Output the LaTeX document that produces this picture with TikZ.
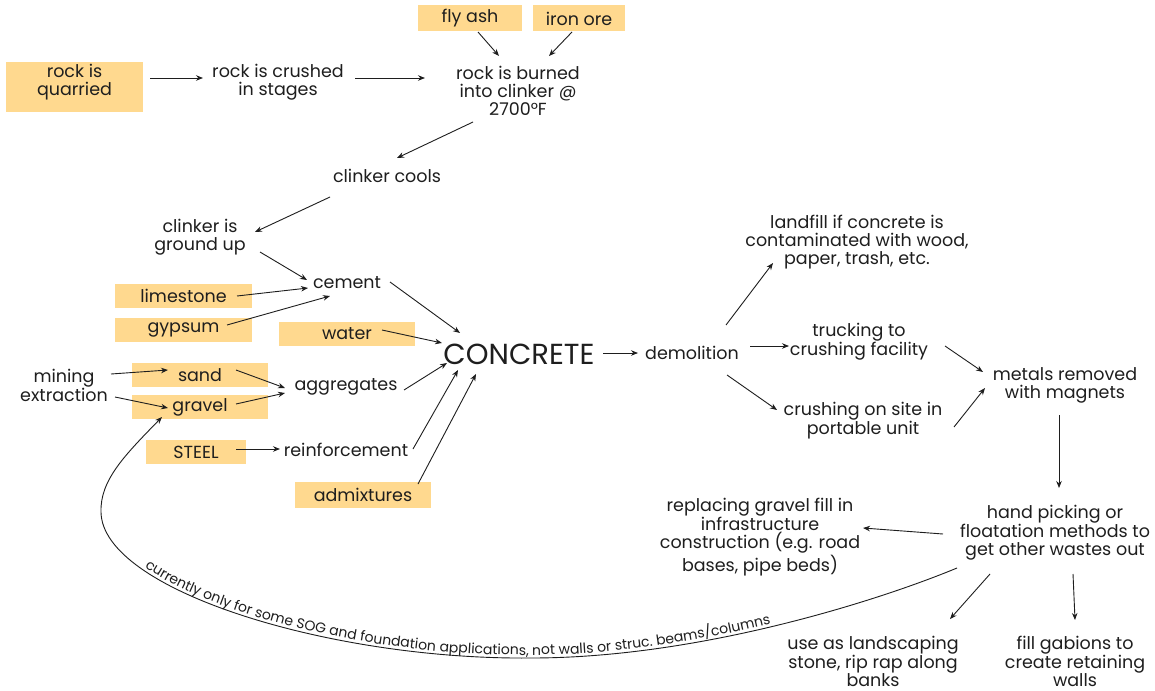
\documentclass[tikz,border=0pt]{standalone}
\usepackage{fontspec}
\setmainfont{Poppins}
\usetikzlibrary{arrows.meta,decorations.text}
\definecolor{boxfill}{HTML}{FFD98F}
\definecolor{ink}{HTML}{1E1E1E}
\tikzset{
  txt/.style={align=center, font=\fontsize{17.5}{18}\selectfont, text=ink, inner sep=1pt},
  hl/.style={txt, fill=boxfill, inner sep=0pt},
  arr/.style={draw=ink, line width=0.9pt, -{Stealth[length=7pt,width=5.5pt]}},
}
\begin{document}
\begin{tikzpicture}[x=1pt,y=-1pt]
\useasboundingbox[fill=white] (0,0) rectangle (1155,690);

% cement production
\node[hl, minimum width=137pt, minimum height=50pt, text depth=15pt] (quarried) at (74.5,87) {rock is\\quarried};
\node[txt] (crushed) at (278,82) {rock is crushed\\in stages};
\node[hl, minimum width=104pt, minimum height=26pt] (flyash) at (470,18.5) {fly ash};
\node[hl, minimum width=92pt, minimum height=26pt] (ironore) at (579,18.5) {iron ore};
\node[txt] (burned) at (518,91) {rock is burned\\into clinker @\\2700°F};
\node[txt] (cools) at (387,176) {clinker cools};
\node[txt] (ground) at (200,237) {clinker is\\ground up};
\node[txt] (cement) at (347,283) {cement};
\node[hl, minimum width=137pt, minimum height=24pt] (limestone) at (183.5,296) {limestone};
\node[hl, minimum width=137pt, minimum height=24pt] (gypsum) at (183.5,330) {gypsum};
\node[hl, minimum width=136pt, minimum height=24pt] (water) at (347,334) {water};

% concrete ingredients
\node[txt, font=\fontsize{29}{29}\selectfont] (concrete) at (519,354) {CONCRETE};
\node[txt] (mining) at (64,385) {mining\\extraction};
\node[hl, minimum width=136pt, minimum height=24pt] (sand) at (200,375) {sand};
\node[hl, minimum width=136pt, minimum height=24pt] (gravel) at (200,407) {gravel};
\node[txt] (aggregates) at (346,387) {aggregates};
\node[hl, minimum width=100pt, minimum height=24pt] (steel) at (196,452) {STEEL};
\node[txt] (reinf) at (346,450) {reinforcement};
\node[hl, minimum width=136pt, minimum height=26pt] (admix) at (363,495) {admixtures};

% end of life
\node[txt] (demolition) at (692,353) {demolition};
\node[txt] (landfill) at (857,242) {landfill if concrete is\\contaminated with wood,\\paper, trash, etc.};
\node[txt] (trucking) at (859,342) {trucking to\\crushing facility};
\node[txt] (onsite) at (863,421) {crushing on site in\\portable unit};
\node[txt] (metals) at (1065,385) {metals removed\\with magnets};
\node[txt] (hand) at (1055,533) {hand picking or\\floatation methods to\\get other wastes out};
\node[txt] (replacing) at (760,537) {replacing gravel fill in\\infrastructure\\construction (e.g. road\\bases, pipe beds)};
\node[txt] (landscaping) at (873,661) {use as landscaping\\stone, rip rap along\\banks};
\node[txt] (gabions) at (1075,661) {fill gabions to\\create retaining\\walls};

% connectors
\draw[arr] ([shift={(75.5,-9)}]quarried.center) -- ([shift={(-75,-4)}]crushed.center);
\draw[arr] ([shift={(77,-4)}]crushed.center) -- ([shift={(-93,-13)}]burned.center);
\draw[arr] ([shift={(8,13.5)}]flyash.center) -- ([shift={(-19,-35)}]burned.center);
\draw[arr] ([shift={(-7,13.5)}]ironore.center) -- ([shift={(31,-35)}]burned.center);
\draw[arr] ([shift={(-45,31)}]burned.center) -- ([shift={(10,-18)}]cools.center);
\draw[arr] ([shift={(-57,21)}]cools.center) -- ([shift={(55,-5)}]ground.center);
\draw[arr] ([shift={(60,15)}]ground.center) -- ([shift={(-40,-3)}]cement.center);
\draw[arr] ([shift={(53.5,0)}]limestone.center) -- ([shift={(-39,5)}]cement.center);
\draw[arr] ([shift={(43.5,-5)}]gypsum.center) -- ([shift={(-17,13)}]cement.center);
\draw[arr] ([shift={(43,-1)}]cement.center) -- ([shift={(-59,-21)}]concrete.center);
\draw[arr] ([shift={(35,-4)}]water.center) -- ([shift={(-77,-11)}]concrete.center);
\draw[arr] ([shift={(58,3)}]aggregates.center) -- ([shift={(-72,9)}]concrete.center);
\draw[arr] ([shift={(67,-1)}]reinf.center) -- ([shift={(-61,16)}]concrete.center);
\draw[arr] ([shift={(55,-11)}]admix.center) -- ([shift={(-43,20)}]concrete.center);
\draw[arr] ([shift={(47,-11)}]mining.center) -- ([shift={(-32,-5)}]sand.center);
\draw[arr] ([shift={(51,12)}]mining.center) -- ([shift={(-32,1)}]gravel.center);
\draw[arr] ([shift={(36,-5)}]sand.center) -- ([shift={(-61,1)}]aggregates.center);
\draw[arr] ([shift={(36,-3)}]gravel.center) -- ([shift={(-61,6)}]aggregates.center);
\draw[arr] ([shift={(40,-3)}]steel.center) -- ([shift={(-66,-1)}]reinf.center);
\draw[arr] ([shift={(84,-1)}]concrete.center) -- ([shift={(-54,0)}]demolition.center);
\draw[arr] ([shift={(34,-28)}]demolition.center) -- ([shift={(-84,21)}]landfill.center);
\draw[arr] ([shift={(58,-7)}]demolition.center) -- ([shift={(-70,4)}]trucking.center);
\draw[arr] ([shift={(35,22)}]demolition.center) -- ([shift={(-86,-11)}]onsite.center);
\draw[arr] ([shift={(86,4)}]trucking.center) -- ([shift={(-82,-13)}]metals.center);
\draw[arr] ([shift={(91,6)}]onsite.center) -- ([shift={(-80,3)}]metals.center);
\draw[arr] ([shift={(-6,30)}]metals.center) -- ([shift={(4,-45)}]hand.center);
\draw[arr] ([shift={(-112,1)}]hand.center) -- ([shift={(103,-9)}]replacing.center);
\draw[arr] ([shift={(-65,41)}]hand.center) -- ([shift={(77,-42)}]landscaping.center);
\draw[arr] ([shift={(18,41)}]hand.center) -- ([shift={(0,-41)}]gabions.center);

% recycled aggregate loop back to gravel
\draw[draw=ink, line width=0.9pt, {Stealth[length=7pt,width=5.5pt]}-,
  postaction={decorate, decoration={text along path, raise=3pt, text color=ink,
    text align={left indent=190pt},
    text={|\fontsize{14}{14}\selectfont|currently only for some SOG and foundation applications, not walls or struc. beams/columns}}}]
  ([shift={(-38,10)}]gravel.center) .. controls (125,455) and (100,480) .. (101,512)
  .. controls (102,590) and (330,660) .. (531,658)
  .. controls (700,658) and (880,600) .. ([shift={(-98,35)}]hand.center);
\end{tikzpicture}
\end{document}
